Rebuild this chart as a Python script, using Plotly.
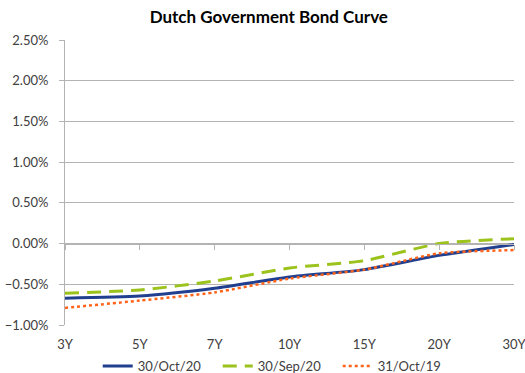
import plotly.graph_objects as go

# Tenor buckets along the curve
tenors = ["3Y", "5Y", "7Y", "10Y", "15Y", "20Y", "30Y"]

# Yields (as fractions) per curve date
yields_30oct20 = [-0.0067, -0.00645, -0.0055, -0.0041, -0.0032, -0.00145, -0.0001]
yields_30sep20 = [-0.0061, -0.0057, -0.0046, -0.0030, -0.0021, 0.0000, 0.0006]
yields_31oct19 = [-0.0079, -0.0070, -0.0060, -0.0043, -0.0032, -0.0012, -0.0008]

series = [
    ("30/Oct/20", yields_30oct20, "#203F8F", "solid", 3),
    ("30/Sep/20", yields_30sep20, "#9BC31C", "14px,8px", 3),
    ("31/Oct/19", yields_31oct19, "#FF6319", "dot", 2.5),
]

xpos = list(range(len(tenors)))
font_family = "Lato, 'Open Sans', sans-serif"
grid = "#B3B3B3"

fig = go.Figure()
for name, vals, color, dash, width in series:
    fig.add_trace(go.Scatter(
        x=xpos, y=vals, name=name, mode="lines",
        line=dict(color=color, dash=dash, width=width, shape="spline", smoothing=0.6),
    ))

# invisible trace so the zero-line axis renders its ticks
fig.add_trace(go.Scatter(x=xpos, y=[0] * len(xpos), xaxis="x2", mode="lines",
                         line=dict(width=0), showlegend=False, hoverinfo="skip"))

fig.update_layout(
    width=525, height=373,
    margin=dict(l=65, r=11, t=40, b=48, autoexpand=False),
    paper_bgcolor="white", plot_bgcolor="white",
    font=dict(family=font_family, size=12, color="#404040"),
    title=dict(text="<b>Dutch Government Bond Curve</b>", x=0.512, xanchor="center",
               xref="container", yref="container", y=0.955, yanchor="middle",
               font=dict(size=17, color="#000000")),
    showlegend=True,
    legend=dict(orientation="h", xref="container", x=0.529, xanchor="center",
                yref="container", y=0.0188, yanchor="middle",
                entrywidth=75, entrywidthmode="pixels",
                bgcolor="rgba(0,0,0,0)", borderwidth=0,
                font=dict(size=13, color="#404040"), tracegroupgap=0),
    xaxis=dict(
        range=[0, 6], tickmode="array", tickvals=xpos, ticktext=tenors,
        showgrid=False, zeroline=False, showline=False, ticks="",
        tickfont=dict(size=13, color="#404040"), ticklabelstandoff=10,
        ticklabeloverflow="allow",
    ),
    xaxis2=dict(
        overlaying="x", anchor="free", position=1 / 3.5, range=[0, 6],
        tickmode="array", tickvals=xpos, showticklabels=False,
        ticks="outside", ticklen=5, tickcolor=grid, showline=True, linecolor=grid,
        linewidth=1, showgrid=False, zeroline=False,
    ),
    yaxis=dict(
        range=[-0.01, 0.025], dtick=0.005, tickformat=".2%",
        showgrid=True, gridcolor=grid, gridwidth=1, zeroline=False,
        showline=True, linecolor=grid, ticks="outside", ticklen=5, tickcolor=grid,
        tickfont=dict(size=13, color="#404040"), ticklabelstandoff=8,
    ),
)

fig.write_html("out.html")
